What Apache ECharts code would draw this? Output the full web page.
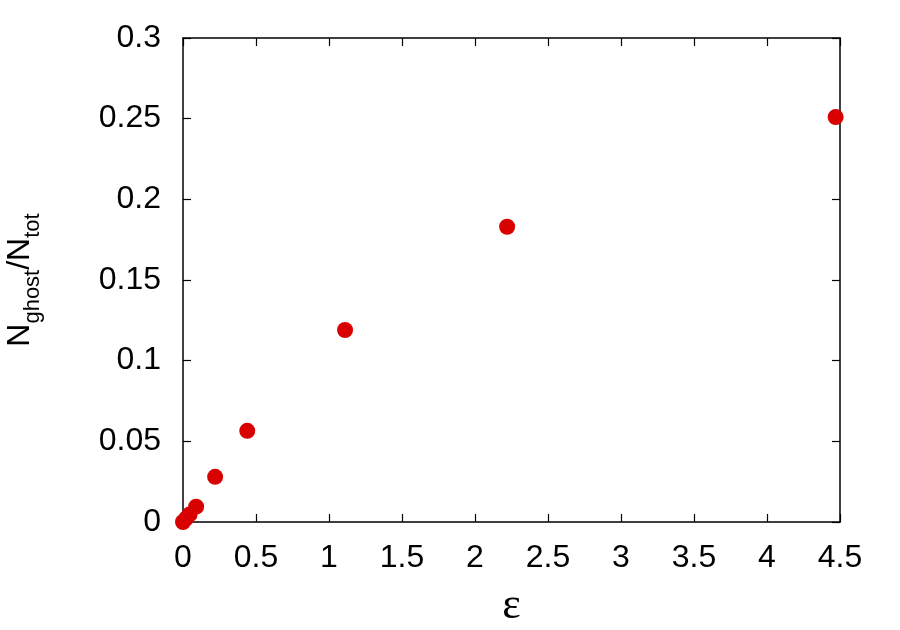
<!DOCTYPE html>
<html>
<head>
<meta charset="utf-8">
<script src="https://cdn.jsdelivr.net/npm/echarts@6/dist/echarts.min.js"></script>
<style>
  html, body { margin: 0; padding: 0; background: #fff; }
  #chart { width: 900px; height: 630px; }
</style>
</head>
<body>
<div id="chart"></div>
<script>
// eps values and ghost fraction
const epsilon = [0.0, 0.022, 0.045, 0.09, 0.22, 0.44, 1.11, 2.22, 4.47]
const ghostFraction = [0.0, 0.0023, 0.0047, 0.0095, 0.028, 0.0565, 0.119, 0.183, 0.251]

const xTicks = [0, 0.5, 1, 1.5, 2, 2.5, 3, 3.5, 4, 4.5]
const yTicks = [0, 0.05, 0.1, 0.15, 0.2, 0.25, 0.3]

const font = 'Liberation Sans, Arial, Helvetica, sans-serif'
const points = epsilon.map((x, i) => [x, ghostFraction[i]])

const chart = echarts.init(document.getElementById('chart'), null, { renderer: 'canvas' })

const axisLine = { show: true, onZero: false, lineStyle: { color: '#000', width: 1.5 } }
const tickIn = { show: true, inside: true, length: 8, lineStyle: { color: '#000', width: 1.2 } }

const option = {
  animation: false,
  backgroundColor: '#fff',
  grid: { left: 183, right: 60, top: 38, bottom: 108, containLabel: false, outerBoundsMode: 'none' },
  xAxis: [
    {
      type: 'value',
      min: 0,
      max: 4.5,
      interval: 0.5,
      axisLine: axisLine,
      axisTick: tickIn,
      splitLine: { show: false },
      axisLabel: {
        margin: 20,
        fontSize: 32,
        fontFamily: font,
        color: '#000',
        formatter: v => String(xTicks.find(t => Math.abs(t - v) < 1e-9) ?? v)
      },
      name: 'ε',
      nameLocation: 'middle',
      nameGap: 62,
      nameTextStyle: { fontSize: 44, fontFamily: 'Liberation Serif, Times New Roman, serif', color: '#000' }
    },
    {
      type: 'value',
      position: 'top',
      min: 0,
      max: 4.5,
      interval: 0.5,
      axisLine: axisLine,
      axisTick: tickIn,
      axisLabel: { show: false },
      splitLine: { show: false }
    }
  ],
  yAxis: [
    {
      type: 'value',
      min: 0,
      max: 0.3,
      interval: 0.05,
      axisLine: axisLine,
      axisTick: tickIn,
      splitLine: { show: false },
      axisLabel: {
        margin: 22,
        fontSize: 32,
        fontFamily: font,
        color: '#000',
        formatter: v => String(yTicks.find(t => Math.abs(t - v) < 1e-9) ?? v)
      },
      name: '{n|N}{s|ghost}{n|/N}{s|tot}',
      nameLocation: 'middle',
      nameGap: 139,
      nameRotate: 90,
      nameTextStyle: {
        color: '#000',
        rich: {
          n: { fontSize: 32, fontFamily: font, color: '#000', lineHeight: 40, verticalAlign: 'top' },
          s: { fontSize: 22, fontFamily: font, color: '#000', lineHeight: 40, verticalAlign: 'bottom' }
        }
      }
    },
    {
      type: 'value',
      position: 'right',
      min: 0,
      max: 0.3,
      interval: 0.05,
      axisLine: axisLine,
      axisTick: tickIn,
      axisLabel: { show: false },
      splitLine: { show: false }
    }
  ],
  series: [
    {
      type: 'scatter',
      symbol: 'circle',
      symbolSize: 16,
      clip: false,
      itemStyle: { color: '#d80000', opacity: 1 },
      data: points
    }
  ]
}

chart.setOption(option)
</script>
</body>
</html>
